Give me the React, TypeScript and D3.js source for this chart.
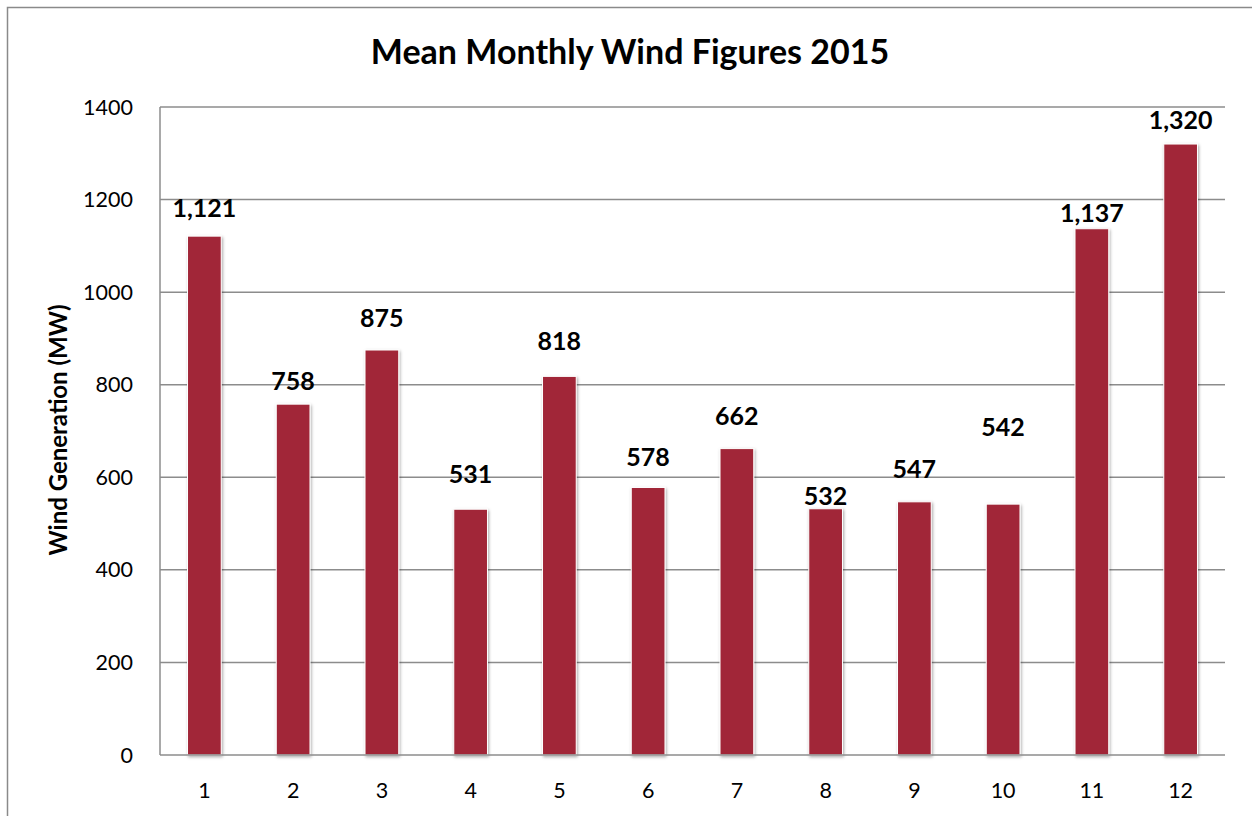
import React from 'react';
import * as d3 from 'd3';

const months = ['1', '2', '3', '4', '5', '6', '7', '8', '9', '10', '11', '12'];
const windMW = [1121, 758, 875, 531, 818, 578, 662, 532, 547, 542, 1137, 1320];
const yTicks = [0, 200, 400, 600, 800, 1000, 1200, 1400];

// labels were dragged around by hand in the original, so each gets its own lift (px)
const labelLift = [19, 14, 23, 26, 26, 21, 24, 4, 24, 68, 7, 15];

const W = 1252;
const H = 816;
const margin = { top: 107, right: 27, bottom: 61, left: 160 };
const font = 'Lato, Calibri, "Open Sans", sans-serif';

export default function App() {
  const x = d3.scaleBand()
    .domain(months)
    .range([margin.left, W - margin.right])
    .paddingInner(0.62)
    .paddingOuter(0.31);

  const y = d3.scaleLinear()
    .domain([0, 1400])
    .range([H - margin.bottom, margin.top]);

  const fmt = d3.format(',');

  return (
    <svg width={W} height={H} style={{ position: 'absolute', top: 0, left: 0, background: '#fff' }}>
      <defs>
        <filter id="barShadow" x="-30%" y="-10%" width="160%" height="120%">
          <feDropShadow dx="1" dy="1.5" stdDeviation="1.5" floodColor="#000" floodOpacity="0.35" />
        </filter>
      </defs>

      <rect x={7.5} y={7.5} width={W + 10} height={H + 10} fill="#fff" stroke="#8a8a8a" strokeWidth={1.5} />

      <text x={630} y={64} textAnchor="middle" fontFamily={font} fontWeight="bold" fontSize={34} fill="#000">
        Mean Monthly Wind Figures 2015
      </text>

      {yTicks.map(t => (
        <g key={t}>
          {t > 0 && (
            <line x1={margin.left} x2={W - margin.right} y1={y(t)} y2={y(t)} stroke="#8c8c8c" strokeWidth={1.5} />
          )}
          <text x={133} y={y(t) + 7.5} textAnchor="end" fontFamily={font} fontSize={21.5} fill="#000">{t}</text>
        </g>
      ))}

      <line x1={margin.left} x2={margin.left} y1={margin.top} y2={y(0)} stroke="#8c8c8c" strokeWidth={1.5} />

      {windMW.map((v, i) => (
        <rect
          key={months[i]}
          x={x(months[i])}
          y={y(v)}
          width={x.bandwidth()}
          height={y(0) - y(v)}
          fill="#a12838"
          stroke="#fff"
          strokeWidth={1}
          filter="url(#barShadow)"
        />
      ))}

      <line x1={margin.left} x2={W - margin.right} y1={y(0)} y2={y(0)} stroke="#8c8c8c" strokeWidth={1.5} />

      {windMW.map((v, i) => (
        <text
          key={'l' + months[i]}
          x={(x(months[i]) as number) + x.bandwidth() / 2}
          y={y(v) - labelLift[i]}
          textAnchor="middle"
          fontFamily={font}
          fontWeight="bold"
          fontSize={25}
          fill="#000"
        >
          {fmt(v)}
        </text>
      ))}

      {months.map(m => (
        <text
          key={'x' + m}
          x={(x(m) as number) + x.bandwidth() / 2}
          y={798}
          textAnchor="middle"
          fontFamily={font}
          fontSize={21.5}
          fill="#000"
        >
          {m}
        </text>
      ))}

      <text
        transform={`translate(67, ${430}) rotate(-90)`}
        textAnchor="middle"
        fontFamily={font}
        fontWeight="bold"
        fontSize={24}
        fill="#000"
      >
        Wind Generation (MW)
      </text>
    </svg>
  );
}
